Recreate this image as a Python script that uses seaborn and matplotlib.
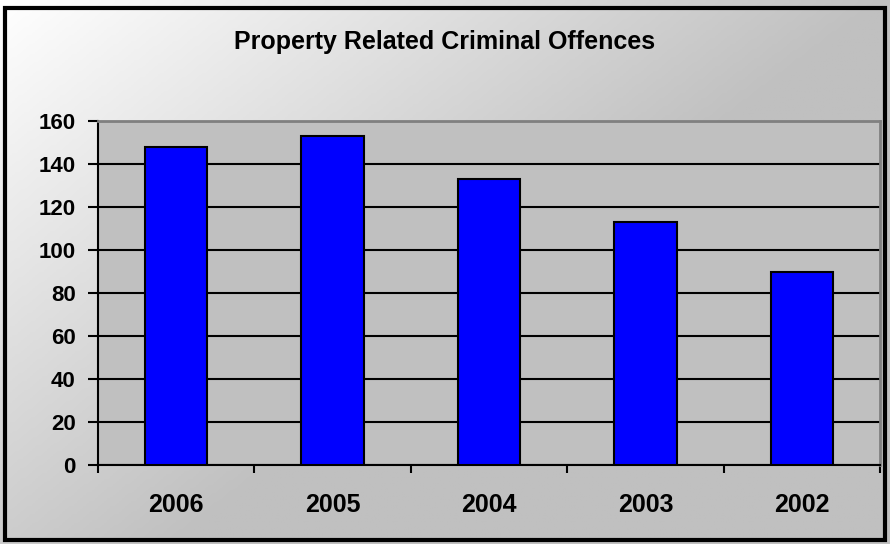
import numpy as np
import pandas as pd
import matplotlib
matplotlib.use("Agg")
import matplotlib.pyplot as plt
import seaborn as sns
from matplotlib.patches import Rectangle

years = ["2006", "2005", "2004", "2003", "2002"]
offences = [148, 153, 133, 113, 90]
y_ticks = [0, 20, 40, 60, 80, 100, 120, 140, 160]

df = pd.DataFrame({"year": years, "offences": offences})

sns.set_theme(style="white")
plt.rcParams['font.family'] = ['Liberation Sans', 'DejaVu Sans']
plt.rcParams['font.weight'] = 'bold'
plt.rcParams['text.color'] = 'black'
plt.rcParams['xtick.color'] = 'black'
plt.rcParams['ytick.color'] = 'black'

fig = plt.figure(figsize=(8.9, 5.44), dpi=100)

# diagonal gradient background, white top-left to grey
bg = fig.add_axes([0, 0, 1, 1], zorder=-10)
gx, gy = np.meshgrid(np.linspace(0, 1, 300), np.linspace(0, 1, 200))
grad = np.clip(gx * 0.75 + gy * 0.6, 0, 1)
bg.imshow(grad, cmap=matplotlib.colors.LinearSegmentedColormap.from_list("g", ["#ffffff", "#c0c0c0"]),
          aspect="auto", extent=[0, 1, 0, 1], origin="upper", vmin=0, vmax=0.75)
bg.set_axis_off()
bg.add_patch(Rectangle((0.006, 0.008), 0.988, 0.978, transform=bg.transAxes,
                       fill=False, edgecolor="black", linewidth=3))

ax = fig.add_axes([98 / 890, 1 - 465 / 544, (880 - 98) / 890, (465 - 121) / 544])
ax.set_facecolor("#c0c0c0")
sns.barplot(data=df, x="year", y="offences", color="#0000ff", width=0.4,
            edgecolor="black", linewidth=1.5, saturation=1, ax=ax, zorder=3)

ax.set_ylim(0, 160)
ax.set_yticks(y_ticks)
ax.set_yticklabels([str(t) for t in y_ticks], fontsize=16, fontweight="bold")
ax.set_xlim(-0.5, len(years) - 0.5)
ax.set_xticks(np.arange(len(years) + 1) - 0.5, minor=False)
ax.set_xticklabels([])
ax.set_xticks(np.arange(len(years)), minor=True)
ax.set_xticklabels(years, minor=True, fontsize=18, fontweight="bold")
ax.tick_params(axis="x", which="major", direction="out", length=6, width=1.5, color="black", bottom=True)
ax.tick_params(axis="x", which="minor", length=0, pad=20)
ax.tick_params(axis="y", direction="out", length=7, width=1.5, color="black", left=True, pad=9)
ax.yaxis.grid(True, color="black", linewidth=1.5)
ax.set_axisbelow(True)
for gl in ax.get_ygridlines():
    gl.set_zorder(1)

ax.spines["left"].set_color("black")
ax.spines["left"].set_linewidth(1.5)
ax.spines["bottom"].set_color("black")
ax.spines["bottom"].set_linewidth(1.5)
ax.spines["top"].set_color("#808080")
ax.spines["top"].set_linewidth(2)
ax.spines["right"].set_color("#808080")
ax.spines["right"].set_linewidth(2)
ax.set_xlabel("")
ax.set_ylabel("")

fig.text(0.5, 1 - 42 / 544, "Property Related Criminal Offences", ha="center", va="center",
         fontsize=18, fontweight="bold")

fig.savefig("out.png", dpi=100)
